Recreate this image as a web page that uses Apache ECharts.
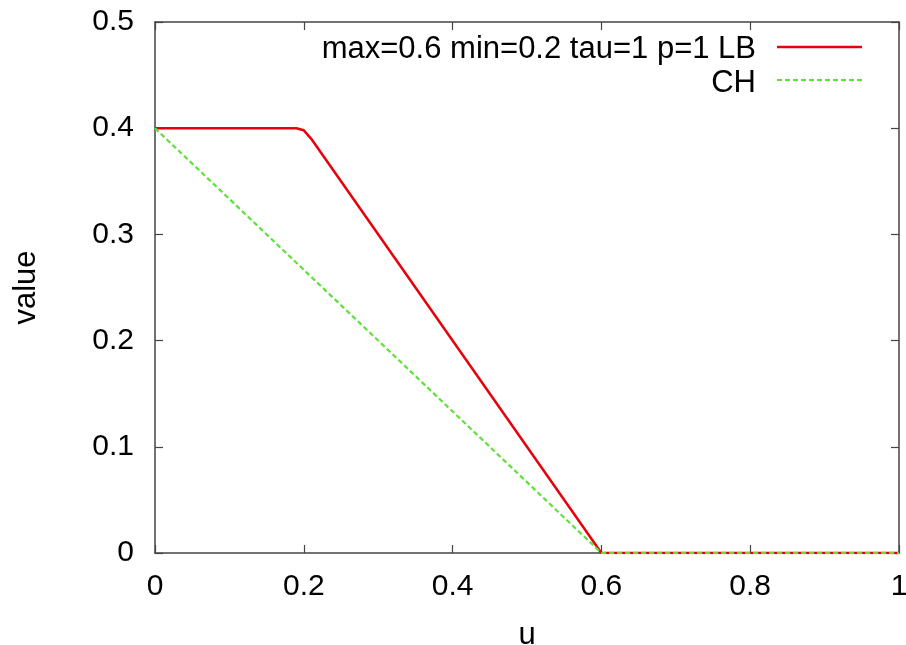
<!DOCTYPE html>
<html>
<head>
<meta charset="utf-8">
<script src="https://cdn.jsdelivr.net/npm/echarts@6/dist/echarts.min.js"></script>
<style>html,body{margin:0;padding:0;background:#fff}#c{width:906px;height:645px}</style>
</head>
<body>
<div id="c"></div>
<script>
const lbU = [0, 0.19, 0.2, 0.21, 0.6, 0.8, 1];
const lbValue = [0.4, 0.4, 0.398, 0.39, 0, 0, 0];
const chU = [0, 0.6, 0.8, 1];
const chValue = [0.4, 0, 0, 0];
const xTicks = [0, 0.2, 0.4, 0.6, 0.8, 1];
const yTicks = [0, 0.1, 0.2, 0.3, 0.4, 0.5];
const lbName = 'max=0.6 min=0.2 tau=1 p=1 LB';
const chName = 'CH';

const font = 'Liberation Sans, Arial, Helvetica, sans-serif';
const axisColor = '#444';
const redColor = '#e8000b';
const greenColor = '#5fe03a';
const chart = echarts.init(document.getElementById('c'), null, {renderer: 'canvas'});

function pairs(xs, ys) { return xs.map((x, i) => [x, ys[i]]); }

const tickCommon = {show: true, inside: true, length: 8, lineStyle: {color: axisColor, width: 1.2}};
const lineCommon = {show: true, onZero: false, lineStyle: {color: axisColor, width: 1.5}};

chart.setOption({
  animation: false,
  backgroundColor: '#fff',
  grid: {left: 155, right: 7, top: 22, bottom: 92, containLabel: false, outerBoundsMode: 'none'},
  xAxis: [{
    type: 'value', min: 0, max: 1, interval: 0.2,
    name: 'u', nameLocation: 'middle', nameGap: 67,
    nameTextStyle: {fontFamily: font, fontSize: 31, color: '#000'},
    axisLine: lineCommon, axisTick: tickCommon, splitLine: {show: false},
    axisLabel: {fontFamily: font, fontSize: 30, color: '#000', margin: 19, lineHeight: 30,
      formatter: v => xTicks.includes(+v.toFixed(2)) ? String(+v.toFixed(2)) : ''}
  }, {
    type: 'value', min: 0, max: 1, interval: 0.2, position: 'top',
    axisLine: lineCommon, axisTick: tickCommon, axisLabel: {show: false}, splitLine: {show: false}
  }],
  yAxis: [{
    type: 'value', min: 0, max: 0.5, interval: 0.1,
    name: 'value', nameLocation: 'middle', nameGap: 113,
    nameTextStyle: {fontFamily: font, fontSize: 31, color: '#000'},
    axisLine: lineCommon, axisTick: tickCommon, splitLine: {show: false},
    axisLabel: {fontFamily: font, fontSize: 30, color: '#000', margin: 21,
      formatter: v => yTicks.includes(+v.toFixed(2)) ? String(+v.toFixed(2)) : ''}
  }, {
    type: 'value', min: 0, max: 0.5, interval: 0.1, position: 'right',
    axisLine: lineCommon, axisTick: tickCommon, axisLabel: {show: false}, splitLine: {show: false}
  }],
  legend: [{
    data: [{name: lbName, icon: 'none'}], right: 123, top: 28, orient: 'vertical', align: 'right',
    itemWidth: 85, itemHeight: 32, itemGap: 0,
    textStyle: {fontFamily: font, fontSize: 31, color: '#000', padding: [0, 17, 0, 0]},
    selectedMode: false
  }, {
    data: [{name: chName, icon: 'none'}], right: 123, top: 62, orient: 'vertical', align: 'right',
    itemWidth: 85, itemHeight: 32, itemGap: 0,
    textStyle: {fontFamily: font, fontSize: 31, color: '#000', padding: [0, 17, 0, 0]},
    selectedMode: false
  }],
  graphic: [{
    type: 'line', shape: {x1: 777, y1: 47, x2: 862, y2: 47},
    style: {stroke: redColor, lineWidth: 2.5}, silent: true
  }, {
    type: 'line', shape: {x1: 777, y1: 80, x2: 862, y2: 80},
    style: {stroke: greenColor, lineWidth: 2.2, lineDash: [5, 3]}, silent: true
  }],
  series: [{
    name: lbName, type: 'line', data: pairs(lbU, lbValue), showSymbol: false, symbol: 'none',
    lineStyle: {color: redColor, width: 2.5}, itemStyle: {color: redColor}, z: 2
  }, {
    name: chName, type: 'line', data: pairs(chU, chValue), showSymbol: false, symbol: 'none',
    lineStyle: {color: greenColor, width: 2.2, type: [5, 3]}, itemStyle: {color: greenColor}, z: 3
  }]
});
</script>
</body>
</html>
